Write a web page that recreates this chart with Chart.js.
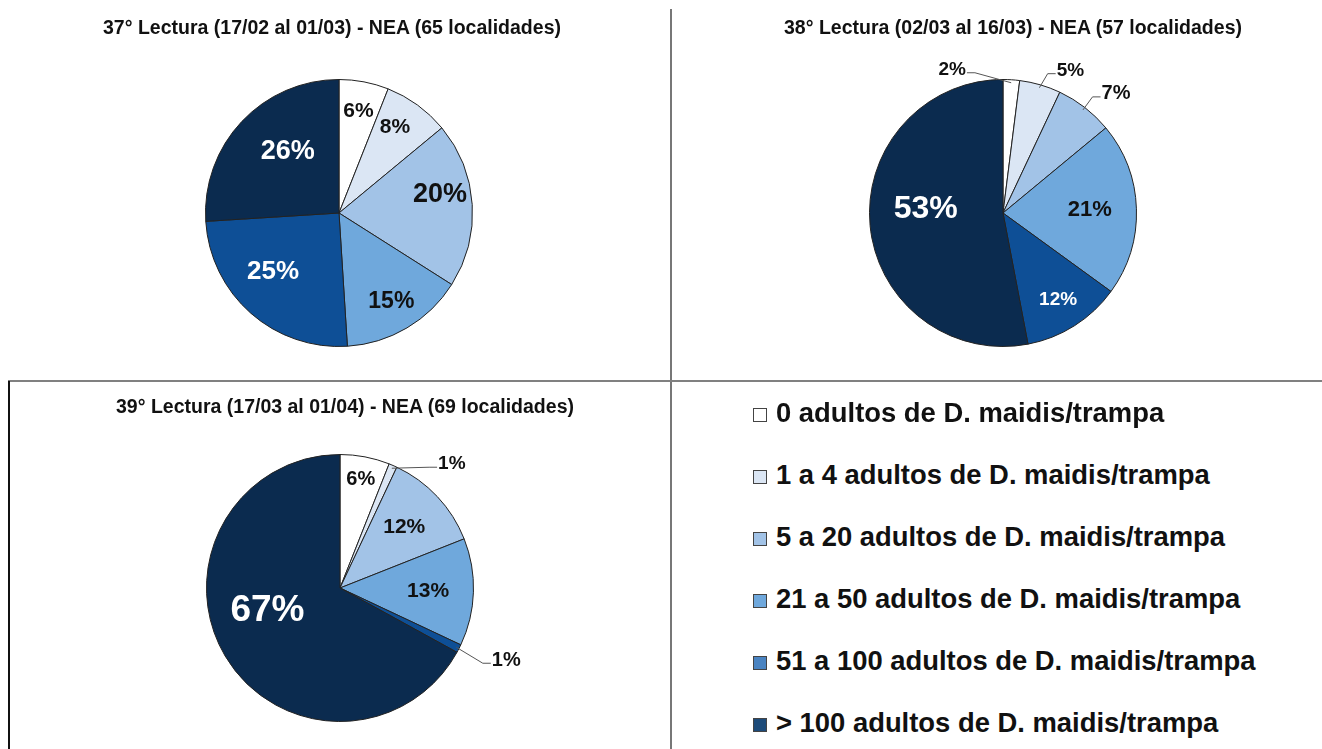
<!DOCTYPE html>
<html>
<head>
<meta charset="utf-8">
<script src="https://cdn.jsdelivr.net/npm/chart.js@4/dist/chart.umd.min.js"></script>
<style>
  body { margin: 0; background: #fff; font-family: 'Liberation Sans', Arial, sans-serif; }
  #page { position: relative; width: 1322px; height: 749px; overflow: hidden; }
  canvas { position: absolute; }
  .title { position: absolute; font-weight: bold; font-size: 19.5px; color: #111; white-space: nowrap; transform: translate(-50%, -50%); }
  .line { position: absolute; }
  #legend { position: absolute; left: 753px; top: 382px; }
  .item { position: absolute; left: 0; height: 30px; white-space: nowrap; font-weight: bold; font-size: 27.4px; color: #111; }
  .swatch { position: absolute; left: 0; top: 10px; width: 14px; height: 14px; border: 1px solid #444; box-sizing: border-box; }
  .item span.txt { position: absolute; left: 23px; top: 0; line-height: 30px; }
</style>
</head>
<body>
<div id="page">
  <div class="line" style="left:670px; top:9px; width:2px; height:740px; background:#777;"></div>
  <div class="line" style="left:8px; top:380px; width:1314px; height:2px; background:#808080;"></div>
  <div class="line" style="left:8px; top:381px; width:2px; height:368px; background:#111;"></div>

  <canvas id="pie37" style="left:0; top:0;" width="670" height="380"></canvas>
  <canvas id="pie38" style="left:672px; top:0;" width="650" height="380"></canvas>
  <canvas id="pie39" style="left:10px; top:382px;" width="660" height="367"></canvas>

  <div class="title" id="t37" style="left:332px; top:27px;"></div>
  <div class="title" id="t38" style="left:1013px; top:27px;"></div>
  <div class="title" id="t39" style="left:345px; top:406px;"></div>

  <div id="legend"></div>
</div>
<script>
// Categories and values
const categories = [
  '0 adultos de D. maidis/trampa',
  '1 a 4 adultos de D. maidis/trampa',
  '5 a 20 adultos de D. maidis/trampa',
  '21 a 50 adultos de D. maidis/trampa',
  '51 a 100 adultos de D. maidis/trampa',
  '> 100 adultos de D. maidis/trampa'
];
const lectura37 = [6, 8, 20, 15, 25, 26];
const lectura38 = [2, 5, 7, 21, 12, 53];
const lectura39 = [6, 1, 12, 13, 1, 67];
const titles = [
  '37° Lectura (17/02 al 01/03) - NEA (65 localidades)',
  '38° Lectura (02/03 al 16/03) - NEA (57 localidades)',
  '39° Lectura (17/03 al 01/04) - NEA (69 localidades)'
];

const sliceColors = ['#ffffff', '#dbe6f4', '#a2c3e7', '#6fa8dc', '#0e4f96', '#0b2b4f'];
const legendColors = ['#ffffff', '#dbe6f4', '#a2c3e7', '#6fa8dc', '#4a84c2', '#1d4b79'];

// label styles per slice: size, color, frac (radial position), rot (deg nudge), out (offset from edge)
const labels37 = [
  { size: 21, color: '#111', frac: 0.78 },
  { size: 21, color: '#111', frac: 0.77, rot: -3 },
  { size: 27, color: '#111', frac: 0.77, rot: -7 },
  { size: 23, color: '#111', frac: 0.77 },
  { size: 26, color: '#fff', frac: 0.66, rot: 7 },
  { size: 27, color: '#fff', frac: 0.60, rot: 7 }
];
const labels38 = [
  { size: 19, color: '#111', out: [-59, -13] },
  { size: 19, color: '#111', out: [31, -17] },
  { size: 20, color: '#111', out: [33, -16] },
  { size: 22, color: '#111', frac: 0.65 },
  { size: 19, color: '#fff', frac: 0.77 },
  { size: 32, color: '#fff', frac: 0.58, rot: 8 }
];
const labels39 = [
  { size: 20, color: '#111', frac: 0.83 },
  { size: 19, color: '#111', out: [60, -4] },
  { size: 21, color: '#111', frac: 0.66 },
  { size: 21, color: '#111', frac: 0.66 },
  { size: 20, color: '#111', out: [50, 13] },
  { size: 37, color: '#fff', frac: 0.57, rot: 13 }
];

const pieLabels = {
  id: 'pieLabels',
  afterDatasetsDraw(chart, args, opts) {
    const ctx = chart.ctx;
    const values = chart.data.datasets[0].data;
    const meta = chart.getDatasetMeta(0);
    meta.data.forEach((arc, i) => {
      const st = opts.styles[i];
      const p = arc.getProps(['x', 'y', 'startAngle', 'endAngle', 'outerRadius'], true);
      const mid = (p.startAngle + p.endAngle) / 2;
      const text = values[i] + '%';
      ctx.save();
      ctx.font = 'bold ' + st.size + 'px "Liberation Sans", Arial, sans-serif';
      ctx.fillStyle = st.color;
      ctx.textAlign = 'center';
      ctx.textBaseline = 'middle';
      if (st.out) {
        const ex = p.x + Math.cos(mid) * (p.outerRadius - 3);
        const ey = p.y + Math.sin(mid) * (p.outerRadius - 3);
        const lx = ex + st.out[0];
        const ly = ey + st.out[1];
        const w = ctx.measureText(text).width;
        const side = st.out[0] > 0 ? -1 : 1;
        const endX = lx + side * (w / 2 + 1);
        const endY = ly + 3;
        ctx.strokeStyle = '#555';
        ctx.lineWidth = 1;
        ctx.beginPath();
        ctx.moveTo(ex, ey);
        ctx.lineTo(endX + side * 8, endY);
        ctx.lineTo(endX, endY);
        ctx.stroke();
        ctx.fillText(text, lx, ly);
      } else {
        const a = mid + (st.rot || 0) * Math.PI / 180;
        const r = p.outerRadius * st.frac;
        ctx.fillText(text, p.x + Math.cos(a) * r, p.y + Math.sin(a) * r);
      }
      ctx.restore();
    });
  }
};

function makePie(id, values, styles, padding) {
  const ctx = document.getElementById(id).getContext('2d');
  return new Chart(ctx, {
    type: 'pie',
    data: {
      labels: categories,
      datasets: [{
        data: values,
        backgroundColor: sliceColors,
        borderColor: '#222',
        borderWidth: 1
      }]
    },
    options: {
      responsive: false,
      animation: false,
      layout: { padding: padding },
      plugins: {
        legend: { display: false },
        tooltip: { enabled: false },
        pieLabels: { styles: styles }
      }
    },
    plugins: [pieLabels]
  });
}

makePie('pie37', lectura37, labels37, { top: 79, bottom: 33, left: 8, right: 0 });
makePie('pie38', lectura38, labels38, { top: 79, bottom: 33, left: 12, right: 0 });
makePie('pie39', lectura39, labels39, { top: 72, bottom: 27, left: 0, right: 0 });

document.getElementById('t37').textContent = titles[0];
document.getElementById('t38').textContent = titles[1];
document.getElementById('t39').textContent = titles[2];

// legend built from the categories
const legend = document.getElementById('legend');
categories.forEach((c, i) => {
  const item = document.createElement('div');
  item.className = 'item';
  item.style.top = (16 + i * 62) + 'px';
  item.innerHTML = '<div class="swatch" style="background:' + legendColors[i] + '"></div><span class="txt"></span>';
  item.querySelector('.txt').textContent = c;
  legend.appendChild(item);
});
</script>
</body>
</html>
